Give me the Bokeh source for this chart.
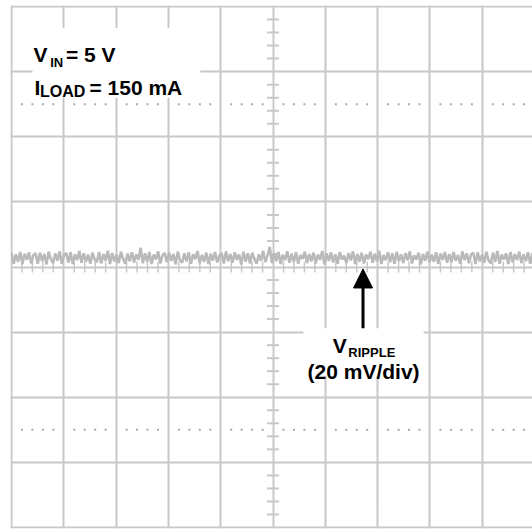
import numpy as np
from bokeh.plotting import figure
from bokeh.models import Range1d, FixedTicker, Label, BoxAnnotation, Arrow, NormalHead
from bokeh.embed import file_html
from bokeh.resources import INLINE

# ---- data (ripple trace, mV) ----
ripple_mv = [
    4.3, 1.0, 3.9, 1.6, 4.6, 0.9, 4.1, 2.2, 4.5, 1.1, 3.6, 4.2, 1.0, 4.4, 1.8, 4.0, 0.8, 4.7, 2.4, 1.2,
    4.2, 1.9, 4.8, 1.0, 3.7, 4.3, 1.4, 4.5, 0.9, 3.9, 2.1, 4.9, 1.3, 4.2, 1.6, 3.8, 1.0, 4.4, 2.3, 1.5,
    4.6, 1.1, 4.0, 2.0, 5.0, 0.9, 4.3, 1.7, 3.8, 1.2, 4.7, 2.5, 1.0, 4.1, 1.8, 4.5, 1.4, 3.9, 2.2, 5.9,
    1.2, 4.2, 1.6, 4.6, 0.9, 3.8, 2.3, 4.8, 1.1, 3.6, 4.3, 1.5, 4.4, 1.9, 4.0, 0.8, 4.7, 2.1, 1.3, 4.2,
    1.7, 4.5, 1.0, 3.9, 2.4, 4.9, 1.2, 3.7, 1.6, 4.4, 0.9, 4.1, 2.0, 4.6, 1.4, 3.5, 4.3, 1.1, 4.8, 1.8,
    4.0, 1.3, 4.5, 2.2, 3.8, 0.8, 4.7, 1.6, 4.2, 1.1, 4.4, 2.4, 1.0, 3.9, 1.9, 5.0, 1.5, 3.6, 6.2, 1.2,
    4.3, 1.8, 4.6, 0.9, 3.8, 2.1, 4.8, 1.3, 4.1, 1.6, 4.5, 1.0, 3.7, 2.5, 4.7, 1.2, 4.0, 1.7, 4.4, 1.1,
    3.8, 2.2, 4.9, 0.8, 4.2, 1.9, 4.5, 1.4, 3.9, 1.0, 4.6, 2.3, 3.5, 1.2, 4.3, 2.0, 4.8, 0.9, 4.0, 1.6,
    4.4, 1.1, 3.8, 2.4, 4.7, 1.3, 4.1, 1.7, 5.0, 0.9, 3.7, 2.1, 4.5, 1.5, 4.2, 1.0, 4.6, 1.8, 3.9, 1.2,
    4.3, 2.0, 4.8, 1.1, 3.6, 2.3, 4.4, 0.8, 4.0, 1.9, 4.7, 1.4, 3.8, 1.6, 4.5, 1.0, 4.1, 2.2, 4.6, 1.3,
    4.0, 1.5, 4.6, 1.9, 3.7, 1.0, 4.8, 2.1, 4.2, 1.2, 3.9, 4.4, 0.9, 4.5, 1.7, 3.8, 1.3, 4.7, 2.0, 1.1,
    4.4, 1.6, 4.9, 1.0, 3.8, 2.3, 4.2, 0.9, 4.6, 1.4, 4.0, 2.1, 4.7, 1.2, 3.9, 1.8, 4.5, 1.0, 4.3, 1.7,
]
mv_per_div = 20.0
h_divs = 10
v_divs = 8

t_div = np.linspace(0, h_divs, len(ripple_mv))
y_div = np.array(ripple_mv) / mv_per_div

GRID = "#c8c8c8"
TRACE = "#bababa"

p = figure(width=532, height=529, output_backend="svg", toolbar_location=None,
           x_range=Range1d(-0.019, 9.96), y_range=Range1d(-4.015, 4.015),
           min_border_left=10, min_border_right=0, min_border_top=5, min_border_bottom=1)
p.outline_line_color = None
p.background_fill_color = "white"
p.border_fill_color = "white"
p.xaxis.visible = False
p.yaxis.visible = False
p.xgrid.ticker = FixedTicker(ticks=list(range(0, h_divs + 1)))
p.ygrid.ticker = FixedTicker(ticks=list(range(-v_divs // 2, v_divs // 2 + 1)))
for g in (p.xgrid, p.ygrid):
    g.grid_line_color = GRID
    g.grid_line_width = 2
    g.grid_line_alpha = 1

# minor ticks on centre axes
k = np.arange(-20, 21)
k = k[k % 5 != 0]
vy = k * 0.2
p.segment(x0=np.full(len(vy), 5 - 0.115), x1=np.full(len(vy), 5 + 0.115), y0=vy, y1=vy,
          line_color=GRID, line_width=2)
kx = np.arange(0, 51)
kx = kx[kx % 5 != 0]
hx = kx * 0.2
p.segment(x0=hx, x1=hx, y0=np.full(len(hx), -0.085), y1=np.full(len(hx), 0.085),
          line_color=GRID, line_width=1.5)

# dotted cursor rows
for yy in (2.5, -2.5):
    p.scatter(x=hx, y=np.full(len(hx), yy), marker="square", size=2,
              fill_color="#a8a8a8", line_color=None)

# trace
p.line(t_div, y_div, line_color=TRACE, line_width=2.6)

# white label backgrounds
p.add_layout(BoxAnnotation(left=0.40, right=3.61, bottom=2.60, top=3.67,
                           fill_color="white", fill_alpha=1, line_color=None))
p.add_layout(BoxAnnotation(left=5.58, right=7.88, bottom=-1.67, top=-0.94,
                           fill_color="white", fill_alpha=1, line_color=None))

# arrow
p.add_layout(Arrow(end=NormalHead(size=19, fill_color="black", line_color="black"),
                   x_start=6.72, y_start=-0.94, x_end=6.72, y_end=-0.03,
                   line_color="black", line_width=3))

FONT = "Liberation Sans"
def lab(x, y, txt, size):
    p.add_layout(Label(x=x, y=y, text=txt, text_font=FONT, text_font_style="bold",
                       text_font_size=f"{size}px", text_color="black",
                       text_baseline="alphabetic", text_align="left"))

lab(0.42, 3.26, "V", 21)
lab(0.74, 3.14, "IN", 13)
lab(1.04, 3.26, "= 5 V", 21)
lab(0.44, 2.76, "I", 21)
lab(0.545, 2.70, "LOAD", 16)
lab(1.49, 2.76, "= 150 mA", 21)
lab(6.14, -1.20, "V", 21)
lab(6.44, -1.31, "RIPPLE", 13)
lab(5.66, -1.60, "(20 mV/div)", 21)

open("out.html", "w").write(file_html(p, INLINE))
